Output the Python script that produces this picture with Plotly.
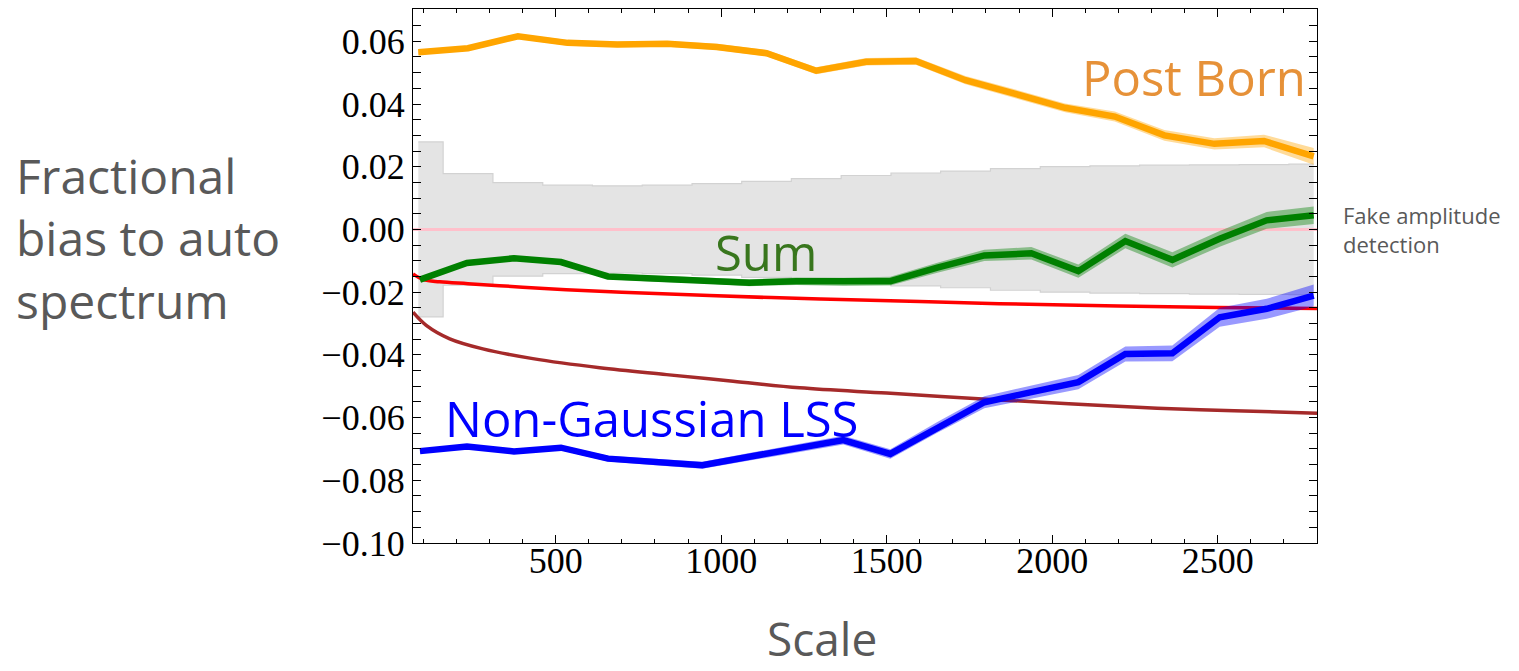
import plotly.graph_objects as go

# ---------------- data ----------------
# Post Born (and noise band) multipole centres
x_pb = [85, 235, 386, 536, 686, 837, 987, 1137, 1287, 1438, 1588, 1738, 1889, 2039, 2189, 2339, 2490, 2640, 2790]
post_born = [0.0565, 0.0578, 0.0616, 0.0595, 0.0590, 0.0592, 0.0582, 0.0562, 0.0506, 0.0535, 0.0537, 0.0476,
             0.0432, 0.0388, 0.0360, 0.0300, 0.0273, 0.0282, 0.0233]
post_born_err = [0.0008, 0.0008, 0.0008, 0.0009, 0.0009, 0.0009, 0.0010, 0.0010, 0.0011, 0.0012, 0.0012, 0.0013,
                 0.0014, 0.0014, 0.0016, 0.0017, 0.0018, 0.0020, 0.0027]
noise_sigma = [0.0279, 0.0178, 0.0149, 0.0141, 0.0139, 0.0141, 0.0146, 0.0153, 0.0162, 0.0172, 0.0180, 0.0186,
               0.0194, 0.0200, 0.0203, 0.0205, 0.0206, 0.0207, 0.0208]

# Sum and Non-Gaussian LSS multipole centres
x_ng = [90, 232, 374, 516, 658, 800, 943, 1085, 1227, 1369, 1511, 1653, 1795, 1937, 2079, 2221, 2363, 2506, 2648, 2790]
sum_vals = [-0.0160, -0.0107, -0.0092, -0.0104, -0.0150, -0.0157, -0.0162, -0.0170, -0.0165, -0.0167, -0.0165,
            -0.0122, -0.0083, -0.0076, -0.0133, -0.0037, -0.0097, -0.0030, 0.0029, 0.0045]
sum_err = [0.0006, 0.0007, 0.0008, 0.0008, 0.0009, 0.0010, 0.0010, 0.0011, 0.0012, 0.0013, 0.0014, 0.0016,
           0.0018, 0.0020, 0.0021, 0.0023, 0.0024, 0.0025, 0.0027, 0.0028]
ng_lss = [-0.0707, -0.0692, -0.0708, -0.0696, -0.0731, -0.0742, -0.0752, -0.0725, -0.0699, -0.0672, -0.0716,
          -0.0631, -0.0551, -0.0519, -0.0487, -0.0397, -0.0395, -0.0280, -0.0253, -0.0211]
ng_err = [0.0006, 0.0007, 0.0007, 0.0008, 0.0009, 0.0010, 0.0011, 0.0012, 0.0013, 0.0014, 0.0015, 0.0017,
          0.0019, 0.0021, 0.0023, 0.0024, 0.0025, 0.0030, 0.0032, 0.0035]

# smooth reference curves
x_red = [69, 100, 150, 235, 400, 532, 700, 965, 1300, 1600, 1840, 2200, 2500, 2800]
y_red = [-0.0142, -0.0160, -0.0167, -0.0173, -0.0184, -0.0192, -0.0200, -0.0211, -0.0222, -0.0230, -0.0237,
         -0.0244, -0.0249, -0.0252]
x_brown = [69, 109, 180, 280, 431, 633, 835, 1036, 1237, 1500, 1777, 2050, 2317, 2550, 2800]
y_brown = [-0.0264, -0.0306, -0.0349, -0.0381, -0.0412, -0.0441, -0.0463, -0.0484, -0.0505, -0.0522, -0.0540,
           -0.0556, -0.0570, -0.0578, -0.0586]

x_range = [69, 2800]
y_range = [-0.10, 0.0703]
x_ticks = [500, 1000, 1500, 2000, 2500]
y_ticks = [-0.10, -0.08, -0.06, -0.04, -0.02, 0.00, 0.02, 0.04, 0.06]

# ---------------- figure ----------------
fig = go.Figure()

def band(x, y, e, color):
    up = [a + b for a, b in zip(y, e)]
    lo = [a - b for a, b in zip(y, e)]
    return go.Scatter(x=list(x) + list(x)[::-1], y=up + lo[::-1], fill="toself", fillcolor=color,
                      line=dict(width=0), mode="lines", hoverinfo="skip", showlegend=False)

# grey noise band (step at mid points)
neg_sigma = [-s for s in noise_sigma]
fig.add_trace(go.Scatter(x=x_pb, y=noise_sigma, mode="lines", line=dict(color="#d2d2d2", width=1.2, shape="hvh"),
                         showlegend=False))
fig.add_trace(go.Scatter(x=x_pb, y=neg_sigma, mode="lines", line=dict(color="#d2d2d2", width=1.2, shape="hvh"),
                         fill="tonexty", fillcolor="rgba(211,211,211,0.62)", showlegend=False))

# zero line
fig.add_trace(go.Scatter(x=x_range, y=[0, 0], mode="lines", line=dict(color="pink", width=3), showlegend=False))

# reference curves
fig.add_trace(go.Scatter(x=x_red, y=y_red, mode="lines", line=dict(color="red", width=3.5, shape="spline"),
                         showlegend=False))
fig.add_trace(go.Scatter(x=x_brown, y=y_brown, mode="lines", line=dict(color="brown", width=3.5, shape="spline"),
                         showlegend=False))

# Post Born
fig.add_trace(band(x_pb, post_born, post_born_err, "rgba(255,165,0,0.4)"))
fig.add_trace(go.Scatter(x=x_pb, y=post_born, mode="lines", line=dict(color="orange", width=6.5), showlegend=False))
# Sum
fig.add_trace(band(x_ng, sum_vals, sum_err, "rgba(0,128,0,0.4)"))
fig.add_trace(go.Scatter(x=x_ng, y=sum_vals, mode="lines", line=dict(color="green", width=6.5), showlegend=False))
# Non-Gaussian LSS
fig.add_trace(band(x_ng, ng_lss, ng_err, "rgba(0,0,255,0.4)"))
fig.add_trace(go.Scatter(x=x_ng, y=ng_lss, mode="lines", line=dict(color="blue", width=6.5), showlegend=False))

tickfont = dict(family="Liberation Serif", size=36, color="black")
axis_common = dict(showgrid=False, zeroline=False, showline=True, linecolor="black", linewidth=1.3,
                   mirror="allticks", ticks="inside", ticklen=8, tickwidth=1.2, tickcolor="black",
                   tickfont=tickfont)

fig.update_xaxes(range=x_range, tickvals=x_ticks, showticklabels=False,
                 minor=dict(dtick=100, tick0=0, ticks="inside", ticklen=4, tickcolor="black", tickwidth=1),
                 **axis_common)
fig.update_yaxes(range=y_range, tickvals=y_ticks, tickformat=".2f",
                 minor=dict(dtick=0.005, tick0=0, ticks="inside", ticklen=4, tickcolor="black", tickwidth=1),
                 ticklabelstandoff=0, **axis_common)
# label-only x axis, lifted slightly so the numbers sit close under the frame
fig.update_layout(xaxis2=dict(overlaying="x", anchor="free", position=0.013, side="bottom", range=x_range,
                              tickvals=x_ticks, ticktext=[str(v) for v in x_ticks], showline=False, showgrid=False,
                              zeroline=False, ticks="", tickfont=tickfont, ticklabelstandoff=0))
fig.add_trace(go.Scatter(x=x_range, y=[None, None], xaxis="x2", yaxis="y", mode="lines", showlegend=False,
                         hoverinfo="skip"))

label_font = "Open Sans"
grey = "#595959"

def py(p):
    return 1 - (p - 9.3) / 534.0

annotations = [
    dict(text="Post Born", x=0.864, y=0.873, font=dict(family=label_font, size=49, color="#E69138")),
    dict(text="Sum", x=0.391, y=0.5455, font=dict(family=label_font, size=49, color="#38761D")),
    dict(text="Non-Gaussian LSS", x=0.2647, y=0.2346, font=dict(family=label_font, size=49, color="#0000FF")),
    dict(text="Fake amplitude<br>detection", x=1.0266, y=py(230), xanchor="left", align="left",
         font=dict(family=label_font, size=22, color=grey)),
    dict(text="Fractional<br>bias to auto<br>spectrum", x=-0.4418, y=py(238), xanchor="left", align="left",
         font=dict(family=label_font, size=48, color=grey)),
    dict(text="Scale", x=0.452, y=py(638), font=dict(family=label_font, size=46, color=grey)),
]
for a in annotations:
    a.setdefault("xanchor", "center")
    a.setdefault("yanchor", "middle")
    fig.add_annotation(xref="paper", yref="paper", showarrow=False, **a)

fig.update_layout(width=1519, height=671, margin=dict(l=413, r=202, t=9, b=128),
                  paper_bgcolor="white", plot_bgcolor="white", showlegend=False)

fig.write_html("out.html")
